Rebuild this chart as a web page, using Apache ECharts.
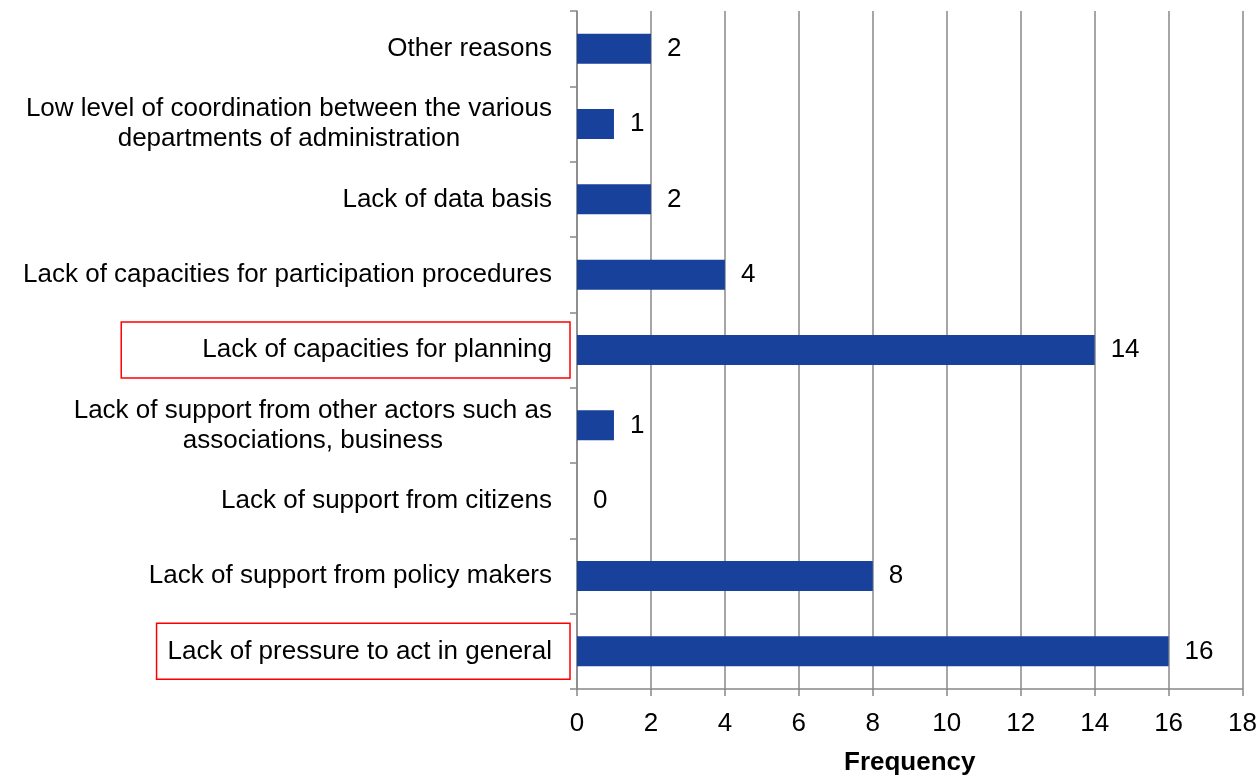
<!DOCTYPE html>
<html>
<head>
<meta charset="utf-8">
<script src="https://cdn.jsdelivr.net/npm/echarts@6/dist/echarts.min.js"></script>
<style>html,body{margin:0;padding:0;background:#fff;overflow:hidden}#c{width:1260px;height:781px}</style>
</head>
<body>
<div id="c"></div>
<script>
const categories = [
  "Other reasons",
  "Low level of coordination between the various\ndepartments of administration",
  "Lack of data basis",
  "Lack of capacities for participation procedures",
  "Lack of capacities for planning",
  "Lack of support from other actors such as\nassociations, business",
  "Lack of support from citizens",
  "Lack of support from policy makers",
  "Lack of pressure to act in general"
];
const values = [2, 1, 2, 4, 14, 1, 0, 8, 16];
const highlighted = ["Lack of capacities for planning", "Lack of pressure to act in general"];
const xTicks = [0, 2, 4, 6, 8, 10, 12, 14, 16, 18];
const xName = "Frequency";

const chart = echarts.init(document.getElementById('c'), null, { width: 1260, height: 781 });
const font = 'Liberation Sans, Arial, sans-serif';
chart.setOption({
  animation: false,
  grid: { left: 577, top: 11, width: 669, height: 685, containLabel: false },
  xAxis: {
    type: 'value', min: xTicks[0], max: xTicks[xTicks.length - 1], interval: 2,
    name: xName, nameLocation: 'middle', nameGap: 61,
    nameTextStyle: { fontFamily: font, fontSize: 26, fontWeight: 'bold', color: '#000' },
    axisLine: { show: true, lineStyle: { color: '#888', width: 1.5 } },
    axisTick: { show: true, length: 7, lineStyle: { color: '#888', width: 1.5 } },
    axisLabel: { fontFamily: font, fontSize: 26, color: '#000', margin: 22 },
    splitLine: { show: true, lineStyle: { color: '#888', width: 1.5 } }
  },
  yAxis: {
    type: 'category', data: categories, inverse: true,
    axisLine: { show: true, lineStyle: { color: '#888', width: 1.5 } },
    axisTick: { show: true, length: 7, lineStyle: { color: '#888', width: 1.5 } },
    axisLabel: {
      margin: 7,
      formatter: function (v) {
        if (highlighted.indexOf(v) >= 0) {
          return '{box' + highlighted.indexOf(v) + '|' + v + '}';
        }
        return v.split('\n').map(function (l) { return '{t|' + l + '}'; }).join('\n');
      },
      rich: {
        t: { fontFamily: font, fontSize: 26, color: '#000', lineHeight: 30, align: 'center', padding: [0, 18, 0, 0] },
        box0: { fontFamily: font, fontSize: 26, color: '#000', lineHeight: 30, align: 'right',
                borderColor: '#ff0000', borderWidth: 1.5, padding: [15, 18, 15, 81] },
        box1: { fontFamily: font, fontSize: 26, color: '#000', lineHeight: 30, align: 'right',
                borderColor: '#ff0000', borderWidth: 1.5, padding: [15, 18, 15, 11] }
      }
    }
  },
  series: [{
    type: 'bar', data: values, barWidth: 30,
    itemStyle: { color: '#17419a' },
    label: { show: true, position: 'right', distance: 16, fontFamily: font, fontSize: 26, color: '#000' }
  }]
});
</script>
</body>
</html>
